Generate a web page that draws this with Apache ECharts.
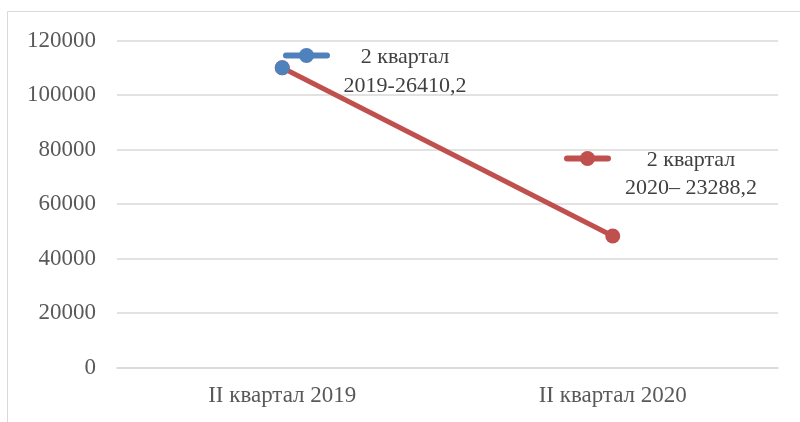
<!DOCTYPE html>
<html>
<head>
<meta charset="utf-8">
<script src="https://cdn.jsdelivr.net/npm/echarts@6/dist/echarts.min.js"></script>
<style>
    html, body { margin: 0; padding: 0; background: #fff; }
    #chart { width: 800px; height: 422px; }
</style>
</head>
<body>
<div id="chart"></div>
<script>
let categories = ['II квартал 2019', 'II квартал 2020'];
let series2019 = [110000, null];
let series2020 = [110000, 48300];
let yTicks = { min: 0, max: 120000, interval: 20000 };
let legend2019 = ['2 квартал', '2019-26410,2'];
let legend2020 = ['2 квартал', '2020– 23288,2'];

let fontFamily = '"Liberation Serif", "Times New Roman", serif';
let chart = echarts.init(document.getElementById('chart'));

function legendLabel(lines) {
    // blank first line so the icon sits beside the first text line
    return '{a|}\n' + lines.map(l => '{a|' + l + '}').join('\n');
}

let option = {
    animation: false,
    graphic: [
        {
            type: 'rect',
            shape: { x: 7.5, y: 11.5, width: 900, height: 500 },
            style: { fill: null, stroke: '#d9d9d9', lineWidth: 1 },
            silent: true
        }
    ],
    grid: { left: 117, right: 22, top: 40.5, bottom: 54.3 },
    legend: [
        {
            data: ['s2019'],
            left: 283, top: 14, padding: 0,
            itemWidth: 41, itemHeight: 19,
            lineStyle: { width: 6, cap: 'round' },
            formatter: () => legendLabel(legend2019),
            textStyle: {
                rich: { a: { width: 146, align: 'center', fontSize: 22, lineHeight: 29, padding: [3, 0, 0, 0], color: '#404040', fontFamily: fontFamily } }
            }
        },
        {
            data: ['s2020'],
            left: 564, top: 118, padding: 0,
            itemWidth: 41, itemHeight: 19,
            lineStyle: { width: 6, cap: 'round' },
            formatter: () => legendLabel(legend2020),
            textStyle: {
                rich: { a: { width: 156, align: 'center', fontSize: 22, lineHeight: 28, padding: [3, 0, 0, 0], color: '#404040', fontFamily: fontFamily } }
            }
        }
    ],
    xAxis: {
        type: 'category',
        data: categories,
        boundaryGap: true,
        axisLine: { lineStyle: { color: '#d9d9d9', width: 1.5 } },
        axisTick: { show: false },
        axisLabel: { color: '#595959', fontSize: 23, fontFamily: fontFamily, margin: 17 }
    },
    yAxis: {
        type: 'value',
        min: yTicks.min,
        max: yTicks.max,
        interval: yTicks.interval,
        axisLine: { show: false },
        axisTick: { show: false },
        splitLine: { lineStyle: { color: '#d9d9d9', width: 1.5 } },
        axisLabel: { color: '#595959', fontSize: 23, fontFamily: fontFamily, margin: 21, formatter: v => String(v) }
    },
    series: [
        {
            name: 's2020',
            type: 'line',
            data: series2020,
            symbol: 'circle',
            symbolSize: 15,
            lineStyle: { color: '#c0504d', width: 5 },
            itemStyle: { color: '#c0504d' }
        },
        {
            name: 's2019',
            type: 'line',
            data: series2019,
            symbol: 'circle',
            symbolSize: 15,
            lineStyle: { color: '#4f81bd', width: 5 },
            itemStyle: { color: '#4f81bd' }
        }
    ]
};
option && chart.setOption(option);
</script>
</body>
</html>
